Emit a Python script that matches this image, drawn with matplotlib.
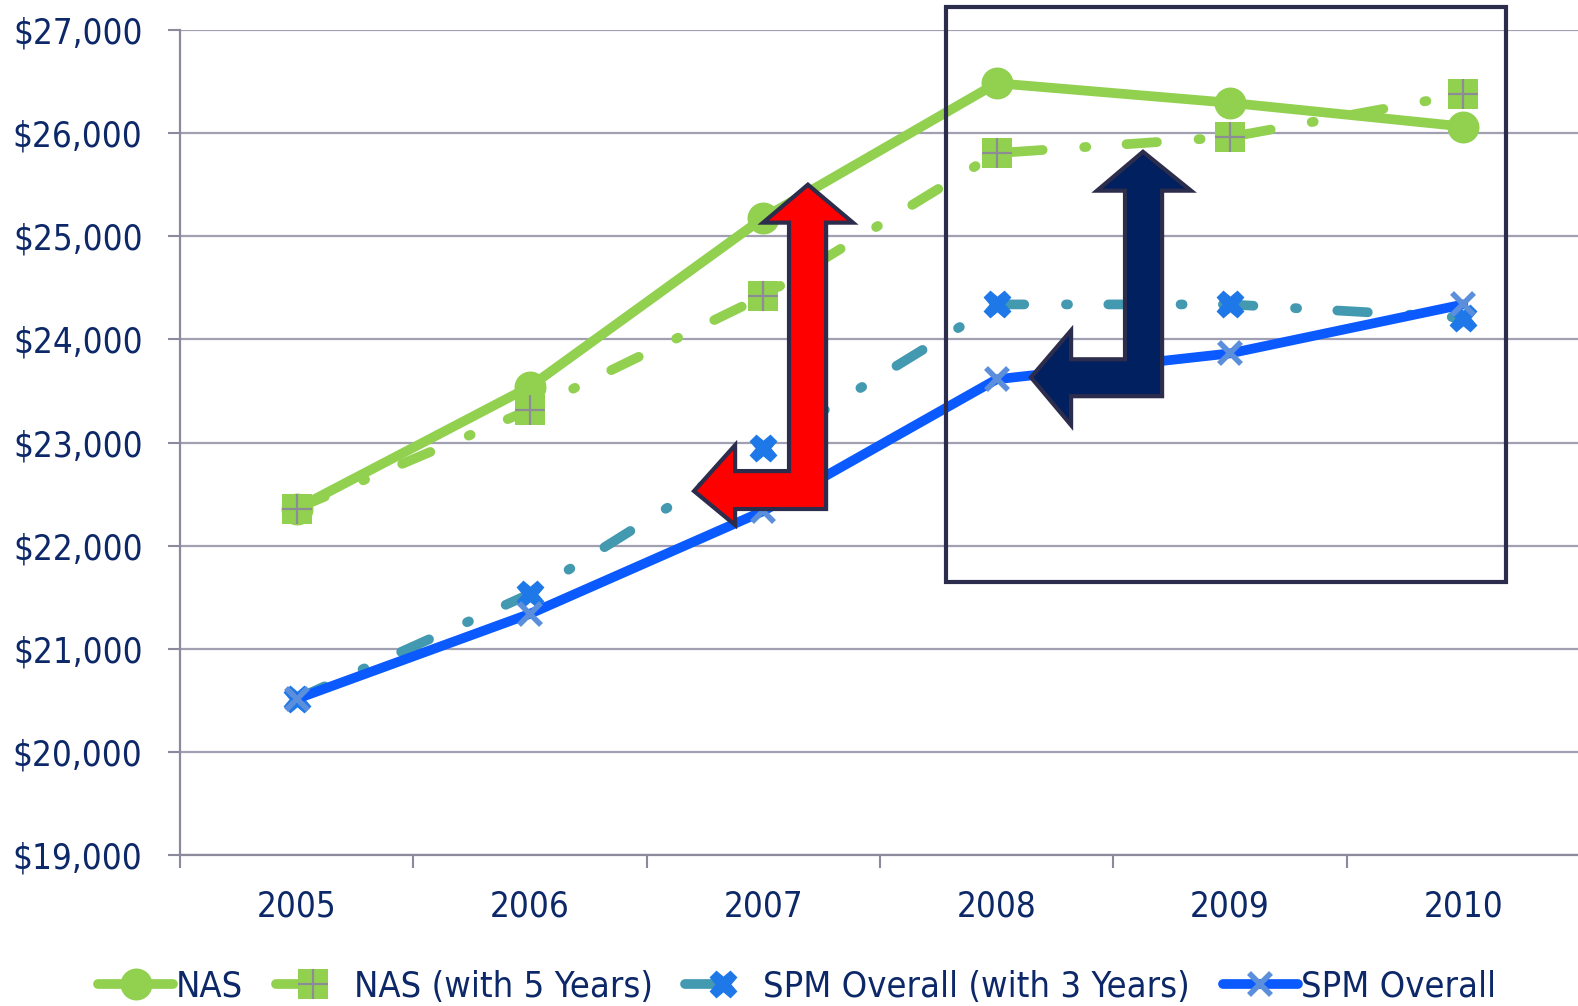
import matplotlib
matplotlib.use("Agg")
import matplotlib.pyplot as plt
from matplotlib.lines import Line2D
from matplotlib.patches import Polygon, Rectangle
from matplotlib.ticker import FixedLocator, FuncFormatter

plt.rcParams['font.family'] = ['DejaVu Sans']
plt.rcParams['font.stretch'] = 'condensed'
plt.rcParams['lines.scale_dashes'] = False

years = ['2005', '2006', '2007', '2008', '2009', '2010']
nas = [22360, 23542, 25178, 26484, 26294, 26064]
nas_5yr = [22360, 23318, 24419, 25806, 25962, 26377]
spm_3yr = [20514, 21532, 22951, 24339, 24339, 24210]
spm = [20514, 21339, 22335, 23613, 23864, 24339]

labels = ['NAS', 'NAS (with 5 Years)', 'SPM Overall (with 3 Years)', 'SPM Overall']

text_col = '#0c2868'
grid_col = '#a0a0b2'
spine_col = '#8a8a9c'
edge_col = '#2c2c4c'
green = '#92d050'
teal = '#4299b0'
dashdot = (0, (22, 30, 1.5, 29))

fig = plt.figure(figsize=(15.78, 10.06), dpi=100)
ax = fig.add_axes([180 / 1578, 151 / 1006, 1400 / 1578, 825 / 1006])

x = list(range(len(years)))

l_nas, = ax.plot(x, nas, color=green, lw=7, solid_capstyle='round',
                 marker='o', ms=22, mec=green, zorder=3)
ax.plot(x, nas_5yr, color=green, lw=7, linestyle=dashdot,
        dash_capstyle='round', marker='s', ms=21, mec=green, mew=0, zorder=4)
p_nas5, = ax.plot(x, nas_5yr, linestyle='none', marker='+', ms=21,
                  mew=1.6, color='#8c8c96', zorder=4)
ax.plot(x, spm_3yr, color=teal, lw=7, linestyle=dashdot,
        dash_capstyle='round', marker='X', ms=19, mfc='#1e78e8',
        mec='#1e78e8', zorder=5)
l_spm, = ax.plot(x, spm, color='#0a5aff', lw=7, solid_capstyle='round',
                 marker='x', ms=16, mew=4, mec='#5b8fdb', zorder=6)

# legend keys for the dash-dot series show just the leading dash
h_nas5 = Line2D([], [], color=green, lw=7, linestyle=(0, (23, 200)),
                dash_capstyle='round', marker='s', ms=21, mec=green, mew=0)
h_spm3 = Line2D([], [], color=teal, lw=7, linestyle=(0, (23, 200)),
                dash_capstyle='round', marker='X', ms=19, mfc='#1e78e8',
                mec='#1e78e8')

ax.set_xlim(-0.5, len(years) - 0.5)
ax.set_ylim(19000, 27000)
ax.yaxis.set_major_locator(FixedLocator(range(19000, 27001, 1000)))
ax.yaxis.set_major_formatter(FuncFormatter(lambda v, p: '${:,.0f}'.format(v)))
ax.set_xticks(x)
ax.set_xticklabels(years)
ax.set_xticks([i - 0.5 for i in range(len(years) + 1)], minor=True)

ax.tick_params(axis='y', direction='out', length=9, width=1.5, color=spine_col,
               labelsize=25, labelcolor=text_col, pad=18)
ax.tick_params(axis='x', which='major', length=0, labelsize=25,
               labelcolor=text_col, pad=25)
ax.tick_params(axis='x', which='minor', direction='out', length=9, width=1.5,
               color=spine_col)

ax.grid(axis='y', color=grid_col, lw=1.6, zorder=0)
ax.set_axisbelow(True)
for side in ['top', 'right']:
    ax.spines[side].set_visible(False)
for side in ['left', 'bottom']:
    ax.spines[side].set_color(spine_col)
    ax.spines[side].set_linewidth(1.6)

# highlight box around 2008-2010
box = Rectangle((2.783, 21649), 5.183 - 2.783, 27223 - 21649, fill=False,
                ec=edge_col, lw=3, zorder=8, clip_on=False)
ax.add_patch(box)

# bent arrows (data coords: category index, dollars)
red_arrow = [(1.703, 22529), (1.879, 22974), (1.879, 22723), (2.110, 22723),
             (2.110, 25132), (1.999, 25132), (2.191, 25500), (2.384, 25132),
             (2.269, 25132), (2.269, 22355), (1.879, 22355), (1.879, 22200)]
navy_arrow = [(3.147, 23632), (3.319, 24087), (3.319, 23807), (3.550, 23807),
              (3.550, 25442), (3.430, 25442), (3.627, 25819), (3.833, 25442),
              (3.709, 25442), (3.709, 23449), (3.319, 23449), (3.319, 23168)]
ax.add_patch(Polygon(red_arrow, closed=True, fc='#ff0000', ec=edge_col,
                     lw=3, joinstyle='miter', zorder=9))
ax.add_patch(Polygon(navy_arrow, closed=True, fc='#002060', ec=edge_col,
                     lw=3, joinstyle='miter', zorder=9))

fig.legend([l_nas, (h_nas5, p_nas5), h_spm3, l_spm], labels,
           loc='center', bbox_to_anchor=(0.505, 0.019), ncol=4, frameon=False,
           fontsize=26, labelcolor=text_col, handlelength=2.08,
           handletextpad=0.08, columnspacing=0.9, borderpad=0)

fig.savefig('out.png', dpi=100)
